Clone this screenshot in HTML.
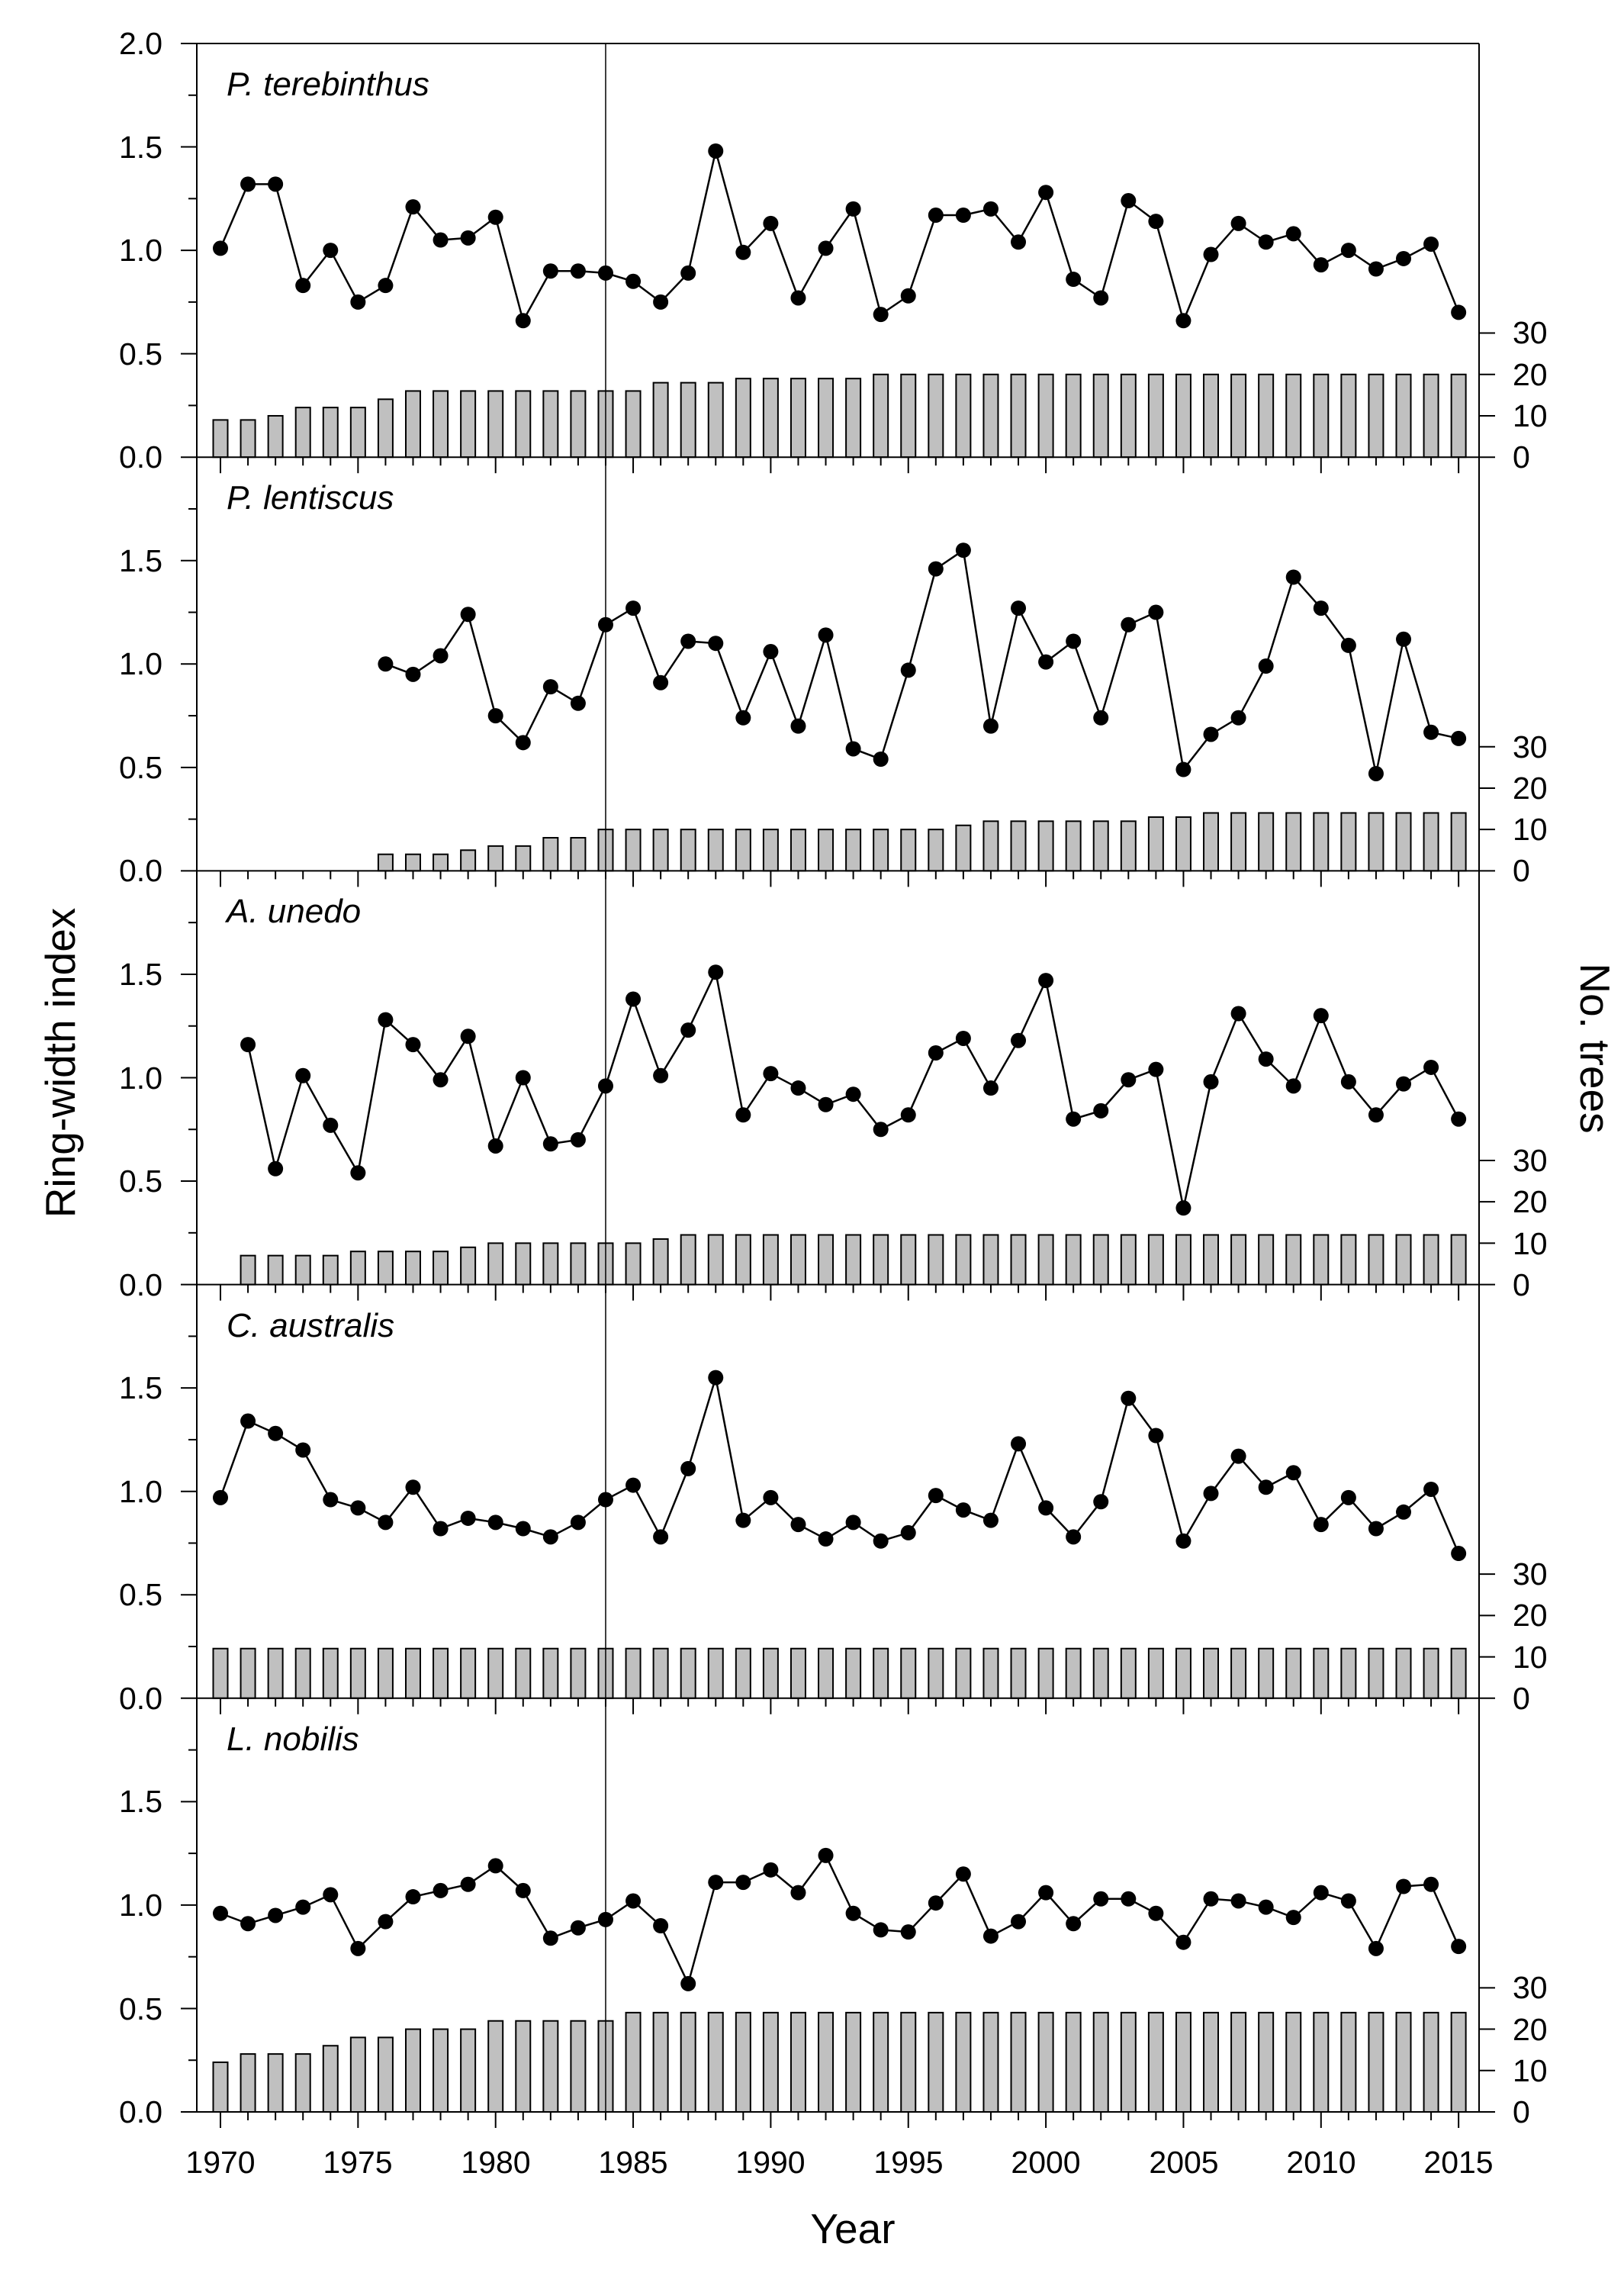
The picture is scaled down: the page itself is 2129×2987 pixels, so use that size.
<!DOCTYPE html>
<html><head><meta charset="utf-8"><style>
html,body{margin:0;padding:0;background:#fff;}
svg{display:block;}
text{font-family:"Liberation Sans",Arial,sans-serif;fill:#000;}
.t{font-size:41px;}
.ti{font-size:44px;font-style:italic;}
.ax{font-size:55px;}
</style></head><body>
<svg id="s" xmlns="http://www.w3.org/2000/svg" width="2129" height="2987" viewBox="0 0 2129 2987">
<g id="g"></g>
<g class="t" text-anchor="end">
<text x="213" y="71">2.0</text><text x="213" y="207">1.5</text><text x="213" y="342">1.0</text><text x="213" y="478">0.5</text><text x="213" y="613">0.0</text>
<text x="213" y="749">1.5</text><text x="213" y="884">1.0</text><text x="213" y="1020">0.5</text><text x="213" y="1155">0.0</text>
<text x="213" y="1291">1.5</text><text x="213" y="1427">1.0</text><text x="213" y="1562">0.5</text><text x="213" y="1698">0.0</text>
<text x="213" y="1833">1.5</text><text x="213" y="1969">1.0</text><text x="213" y="2104">0.5</text><text x="213" y="2240">0.0</text>
<text x="213" y="2375">1.5</text><text x="213" y="2511">1.0</text><text x="213" y="2647">0.5</text><text x="213" y="2782">0.0</text>
</g>
<g class="t">
<text x="1983" y="613">0</text><text x="1983" y="559">10</text><text x="1983" y="505">20</text><text x="1983" y="450">30</text>
<text x="1983" y="1155">0</text><text x="1983" y="1101">10</text><text x="1983" y="1047">20</text><text x="1983" y="993">30</text>
<text x="1983" y="1698">0</text><text x="1983" y="1644">10</text><text x="1983" y="1589">20</text><text x="1983" y="1535">30</text>
<text x="1983" y="2240">0</text><text x="1983" y="2186">10</text><text x="1983" y="2131">20</text><text x="1983" y="2077">30</text>
<text x="1983" y="2782">0</text><text x="1983" y="2728">10</text><text x="1983" y="2674">20</text><text x="1983" y="2619">30</text>
</g>
<g class="t" text-anchor="middle">
<text x="289" y="2848">1970</text><text x="469" y="2848">1975</text><text x="650" y="2848">1980</text><text x="830" y="2848">1985</text><text x="1010" y="2848">1990</text><text x="1191" y="2848">1995</text><text x="1371" y="2848">2000</text><text x="1552" y="2848">2005</text><text x="1732" y="2848">2010</text><text x="1912" y="2848">2015</text>
</g>
<g class="ti">
<text x="297" y="125">P. terebinthus</text>
<text x="297" y="667">P. lentiscus</text>
<text x="297" y="1209">A. unedo</text>
<text x="297" y="1752">C. australis</text>
<text x="297" y="2294">L. nobilis</text>
</g>
<text class="ax" x="1118" y="2940" text-anchor="middle">Year</text>
<text class="ax" transform="translate(98,1393) rotate(-90)" text-anchor="middle">Ring-width index</text>
<text class="ax" transform="translate(2072,1374) rotate(90)" text-anchor="middle">No. trees</text>
</svg>
<script>
(function(){
var g=document.getElementById('g'),NS='http://www.w3.org/2000/svg';
function el(n,a){var e=document.createElementNS(NS,n);for(var k in a)e.setAttribute(k,a[k]);g.appendChild(e);return e;}
var TOP=57,H=542.2,U=271.1,L=258,R=1939;
function X(y){return 289+36.07*(y-1970);}
var D=[
{s:1970,v:[1.01,1.32,1.32,0.83,1.00,0.75,0.83,1.21,1.05,1.06,1.16,0.66,0.90,0.90,0.89,0.85,0.75,0.89,1.48,0.99,1.13,0.77,1.01,1.20,0.69,0.78,1.17,1.17,1.20,1.04,1.28,0.86,0.77,1.24,1.14,0.66,0.98,1.13,1.04,1.08,0.93,1.00,0.91,0.96,1.03,0.70],
 bs:1970,b:[9,9,10,12,12,12,14,16,16,16,16,16,16,16,16,16,18,18,18,19,19,19,19,19,20,20,20,20,20,20,20,20,20,20,20,20,20,20,20,20,20,20,20,20,20,20]},
{s:1976,v:[1.00,0.95,1.04,1.24,0.75,0.62,0.89,0.81,1.19,1.27,0.91,1.11,1.10,0.74,1.06,0.70,1.14,0.59,0.54,0.97,1.46,1.55,0.70,1.27,1.01,1.11,0.74,1.19,1.25,0.49,0.66,0.74,0.99,1.42,1.27,1.09,0.47,1.12,0.67,0.64],
 bs:1976,b:[4,4,4,5,6,6,8,8,10,10,10,10,10,10,10,10,10,10,10,10,10,11,12,12,12,12,12,12,13,13,14,14,14,14,14,14,14,14,14,14]},
{s:1971,v:[1.16,0.56,1.01,0.77,0.54,1.28,1.16,0.99,1.20,0.67,1.00,0.68,0.70,0.96,1.38,1.01,1.23,1.51,0.82,1.02,0.95,0.87,0.92,0.75,0.82,1.12,1.19,0.95,1.18,1.47,0.80,0.84,0.99,1.04,0.37,0.98,1.31,1.09,0.96,1.30,0.98,0.82,0.97,1.05,0.80],
 bs:1971,b:[7,7,7,7,8,8,8,8,9,10,10,10,10,10,10,11,12,12,12,12,12,12,12,12,12,12,12,12,12,12,12,12,12,12,12,12,12,12,12,12,12,12,12,12,12]},
{s:1970,v:[0.97,1.34,1.28,1.20,0.96,0.92,0.85,1.02,0.82,0.87,0.85,0.82,0.78,0.85,0.96,1.03,0.78,1.11,1.55,0.86,0.97,0.84,0.77,0.85,0.76,0.80,0.98,0.91,0.86,1.23,0.92,0.78,0.95,1.45,1.27,0.76,0.99,1.17,1.02,1.09,0.84,0.97,0.82,0.90,1.01,0.70],
 bs:1970,b:null},
{s:1970,v:[0.96,0.91,0.95,0.99,1.05,0.79,0.92,1.04,1.07,1.10,1.19,1.07,0.84,0.89,0.93,1.02,0.90,0.62,1.11,1.11,1.17,1.06,1.24,0.96,0.88,0.87,1.01,1.15,0.85,0.92,1.06,0.91,1.03,1.03,0.96,0.82,1.03,1.02,0.99,0.94,1.06,1.02,0.79,1.09,1.10,0.80],
 bs:1970,b:[12,14,14,14,16,18,18,20,20,20,22,22,22,22,22,24]}
];
for(var p=0;p<5;p++){
 var Z=TOP+H*(p+1),d=D[p];
 var b=d.b;
 if(p==3){b=[];for(var i=0;i<46;i++)b.push(12);}
 if(p==4){while(b.length<46)b.push(24);}
 for(var i=0;i<b.length;i++){var x=X(d.bs+i),h=b[i]*5.422;
  el('rect',{x:x-9.5,y:Z-h,width:19,height:h,fill:'#c0c0c0',stroke:'#000','stroke-width':2});}
 var pts=[];for(var i=0;i<d.v.length;i++)pts.push(X(d.s+i)+','+(Z-d.v[i]*U));
 el('polyline',{points:pts.join(' '),fill:'none',stroke:'#000','stroke-width':2.5});
 for(var i=0;i<d.v.length;i++)el('circle',{cx:X(d.s+i),cy:Z-d.v[i]*U,r:10,fill:'#000'});
 el('line',{x1:L-21,y1:Z,x2:R+21,y2:Z,stroke:'#000','stroke-width':2});
 for(var k=1;k<8;k++){var y=Z-k*U*0.25;var len=(k%2==0)?21:11;
  el('line',{x1:L-len,y1:y,x2:L,y2:y,stroke:'#000','stroke-width':2});}
 for(var k=1;k<=3;k++){var y=Z-k*54.22;el('line',{x1:R,y1:y,x2:R+21,y2:y,stroke:'#000','stroke-width':2});}
 for(var yr=1970;yr<=2015;yr++){var len=(yr%5==0)?21:11;
  el('line',{x1:X(yr),y1:Z,x2:X(yr),y2:Z+len,stroke:'#000','stroke-width':2});}
}
el('line',{x1:L-21,y1:TOP,x2:R,y2:TOP,stroke:'#000','stroke-width':2});
el('line',{x1:L,y1:TOP,x2:L,y2:TOP+5*H,stroke:'#000','stroke-width':2});
el('line',{x1:R,y1:TOP,x2:R,y2:TOP+5*H,stroke:'#000','stroke-width':2});
el('line',{x1:X(1984),y1:TOP,x2:X(1984),y2:TOP+5*H,stroke:'#000','stroke-width':1.5});
})();
</script>
</body></html>
